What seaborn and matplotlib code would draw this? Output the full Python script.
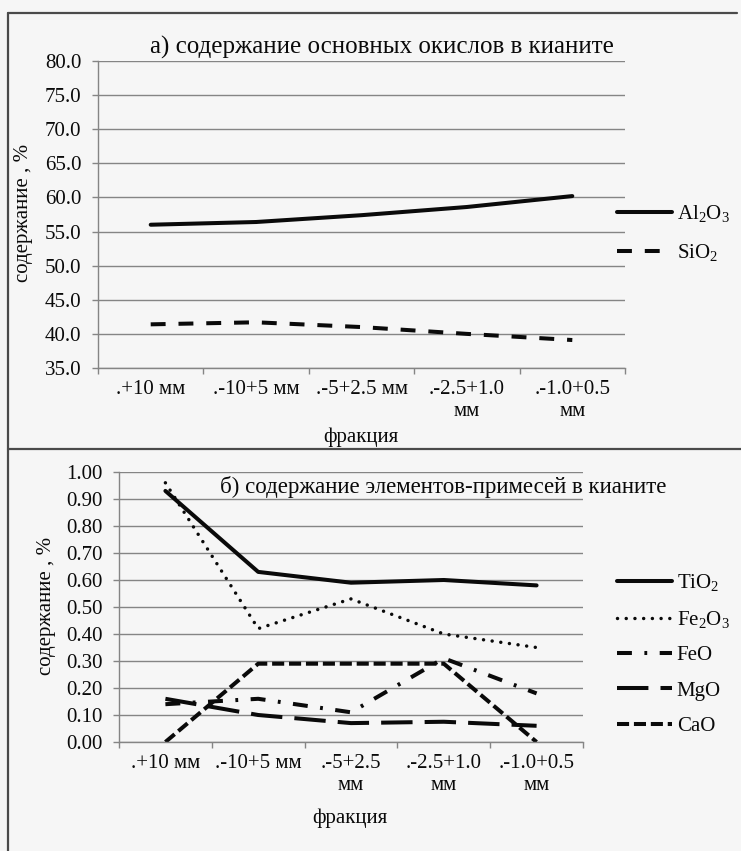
import matplotlib
matplotlib.use("Agg")
import numpy as np
import pandas as pd
import seaborn as sns
import matplotlib.pyplot as plt
from matplotlib.lines import Line2D
from matplotlib.ticker import FormatStrFormatter, MultipleLocator, FixedLocator

# ---------------- data ----------------
fractions_top = [".+10 мм", ".-10+5 мм", ".-5+2.5 мм", ".-2.5+1.0\nмм", ".-1.0+0.5\nмм"]
fractions_bottom = [".+10 мм", ".-10+5 мм", ".-5+2.5\nмм", ".-2.5+1.0\nмм", ".-1.0+0.5\nмм"]

al2o3 = [56.0, 56.4, 57.4, 58.6, 60.2]
sio2 = [41.4, 41.7, 41.0, 40.0, 39.1]

tio2 = [0.93, 0.63, 0.59, 0.60, 0.58]
fe2o3 = [0.96, 0.42, 0.53, 0.40, 0.35]
feo = [0.14, 0.16, 0.11, 0.31, 0.18]
mgo = [0.16, 0.10, 0.07, 0.075, 0.06]
cao = [0.0, 0.29, 0.29, 0.29, 0.0]

title_top = "а) содержание основных окислов в кианите"
title_bottom = "б) содержание элементов-примесей в кианите"
ylabel = "содержание , %"
xlabel = "фракция"

# ---------------- style ----------------
sns.set_theme(style="white")
plt.rcParams["font.family"] = ["Liberation Serif", "DejaVu Serif"]
plt.rcParams["mathtext.fontset"] = "custom"
plt.rcParams["mathtext.rm"] = "Liberation Serif"
plt.rcParams["mathtext.it"] = "Liberation Serif:italic"
plt.rcParams["mathtext.bf"] = "Liberation Serif:bold"

BG = "#f6f6f6"
GRID = "#858585"
INK = "#0a0a0a"
W, H = 741, 851
FS = 15
TFS = 18

fig = plt.figure(figsize=(W / 100, H / 100), dpi=100, facecolor=BG)

def px_axes(left, top, right, bottom):
    return fig.add_axes([left / W, 1 - bottom / H, (right - left) / W, (bottom - top) / H])

ax1 = px_axes(98, 61, 625, 368)
ax2 = px_axes(119, 472, 583, 742)

df_top = pd.DataFrame({"fr": fractions_top, "Al2O3": al2o3, "SiO2": sio2})
df_bot = pd.DataFrame({"fr": fractions_bottom, "TiO2": tio2, "Fe2O3": fe2o3,
                       "FeO": feo, "MgO": mgo, "CaO": cao})

LW = 2.9
sns.lineplot(data=df_top, x="fr", y="Al2O3", ax=ax1, sort=False, color=INK,
             lw=LW, label="Al$_2$O$_3$")
sns.lineplot(data=df_top, x="fr", y="SiO2", ax=ax1, sort=False, color=INK,
             lw=LW, linestyle=(0, (3.7, 3.2)), label="SiO$_2$")

sns.lineplot(data=df_bot, x="fr", y="TiO2", ax=ax2, sort=False, color=INK,
             lw=LW, label="TiO$_2$")
sns.lineplot(data=df_bot, x="fr", y="Fe2O3", ax=ax2, sort=False, color=INK,
             lw=2.5, linestyle=(0, (0.01, 2.5)), dash_capstyle="round",
             label="Fe$_2$O$_3$")
sns.lineplot(data=df_bot, x="fr", y="FeO", ax=ax2, sort=False, color=INK,
             lw=LW, linestyle=(0, (3.7, 3.1, 0.7, 3.1)), label="FeO")
sns.lineplot(data=df_bot, x="fr", y="MgO", ax=ax2, sort=False, color=INK,
             lw=LW, linestyle=(0, (7.8, 3.0)), label="MgO")
sns.lineplot(data=df_bot, x="fr", y="CaO", ax=ax2, sort=False, color=INK,
             lw=LW, linestyle=(0, (3.0, 1.2)), label="CaO")

def style_axes(ax, ylim, step, fmt):
    ax.set_facecolor("none")
    ax.set_xlim(-0.5, 4.5)
    ax.set_ylim(*ylim)
    ax.yaxis.set_major_locator(MultipleLocator(step))
    ax.yaxis.set_major_formatter(FormatStrFormatter(fmt))
    ax.xaxis.set_minor_locator(FixedLocator(np.arange(-0.5, 5.0, 1.0)))
    ax.grid(axis="y", color=GRID, lw=1.0)
    ax.grid(axis="x", visible=False)
    ax.set_axisbelow(True)
    for s in ["top", "right"]:
        ax.spines[s].set_visible(False)
    for s in ["left", "bottom"]:
        ax.spines[s].set_color(GRID)
        ax.spines[s].set_linewidth(1.0)
    ax.tick_params(axis="y", which="major", length=4, width=1.0, color=GRID,
                   pad=8, labelsize=FS, labelcolor=INK, left=True)
    ax.tick_params(axis="x", which="major", length=0, pad=9, labelsize=FS,
                   labelcolor=INK, bottom=True)
    ax.tick_params(axis="x", which="minor", length=4, width=1.0, color=GRID,
                   bottom=True)
    for lab in ax.get_xticklabels():
        lab.set_linespacing(1.2)
        lab.set_va("top")

style_axes(ax1, (35, 80), 5, "%.1f")
style_axes(ax2, (0, 1.0), 0.1, "%.2f")

# axis labels
ax1.set_xlabel(xlabel, fontsize=FS, color=INK)
ax1.set_ylabel(ylabel, fontsize=FS, color=INK)
ax1.xaxis.set_label_coords((361 - 98) / 527, (368 - 437) / 307)
ax1.yaxis.set_label_coords((24 - 98) / 527, (368 - 213) / 307)
ax2.set_xlabel(xlabel, fontsize=FS, color=INK)
ax2.set_ylabel(ylabel, fontsize=FS, color=INK)
ax2.xaxis.set_label_coords((350 - 119) / 464, (742 - 818) / 270)
ax2.yaxis.set_label_coords((47 - 119) / 464, (742 - 606) / 270)
for ax in (ax1, ax2):
    ax.xaxis.label.set_va("center")
    ax.yaxis.label.set_va("center")

# titles
fig.text(382 / W, 1 - 47 / H, title_top, ha="center", va="center",
         fontsize=TFS, color=INK)
fig.text(443 / W, 1 - 487 / H, title_bottom, ha="center", va="center",
         fontsize=16.5, color=INK)

# legends
leg_kw = dict(frameon=False, loc="center left", bbox_transform=fig.transFigure,
              handlelength=2.65, handletextpad=0.22, borderpad=0, borderaxespad=0,
              fontsize=FS, labelcolor=INK)
ax1.legend(bbox_to_anchor=(617 / W, 1 - 233 / H), labelspacing=0.85, **leg_kw)
ax2.legend(bbox_to_anchor=(617 / W, 1 - 654 / H), labelspacing=0.76, **leg_kw)

# frame lines of the scanned figure
BORDER = "#4a4a4a"
fig.add_artist(Line2D([8 / W, 737 / W], [1 - 13 / H, 1 - 13 / H],
                      transform=fig.transFigure, color=BORDER, lw=1.6))
fig.add_artist(Line2D([8 / W, 8 / W], [0, 1 - 13 / H],
                      transform=fig.transFigure, color=BORDER, lw=1.6))
fig.add_artist(Line2D([8 / W, 1.0], [1 - 449 / H, 1 - 449 / H],
                      transform=fig.transFigure, color=BORDER, lw=1.6))

fig.savefig("out.png", dpi=100, facecolor=BG)
